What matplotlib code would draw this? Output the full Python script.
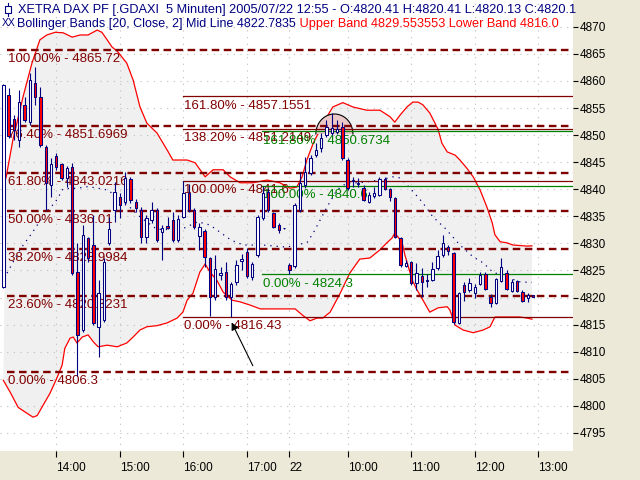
import numpy as np
import matplotlib
matplotlib.use("Agg")
import matplotlib.pyplot as plt
from matplotlib.lines import Line2D
from matplotlib.patches import Rectangle

plt.rcParams['font.family'] = ['Liberation Sans', 'DejaVu Sans']

# ---------------- data ----------------
# 5-minute bars, XETRA DAX, 2005/07/21 13:10 ... 2005/07/22 12:55 (bar index)
opens = [4822.0, 4857.4, 4853.0, 4849.1, 4855.6, 4852.4, 4859.6, 4857.0, 4847.8, 4840.8,
         4846.1, 4844.7, 4842.1, 4844.1, 4824.7, 4814.0, 4831.0, 4829.7, 4814.6, 4815.9,
         4830.1, 4836.2, 4838.6, 4837.6, 4841.9, 4837.6, 4836.2, 4831.2, 4834.3, 4836.2,
         4832.1, 4833.2, 4834.3, 4830.6, 4834.9, 4839.3, 4836.2, 4831.4, 4832.3, 4827.3,
         4820.1, 4824.2, 4824.7, 4820.1, 4822.9, 4826.8, 4828.4, 4823.8, 4827.9, 4834.7,
         4839.5, 4835.6, 4833.4, 4832.8, 4826.0, 4825.8, 4836.2, 4840.8, 4843.0, 4846.3,
         4847.6, 4850.0, 4850.4, 4850.6, 4851.5, 4845.4, 4841.5, 4841.0, 4840.2, 4837.6,
         4838.8, 4838.9, 4841.9, 4840.1, 4838.4, 4831.0, 4825.8, 4826.6, 4822.7, 4824.0,
         4823.2, 4823.2, 4825.5, 4827.9, 4829.3, 4828.2, 4815.3, 4822.3, 4821.4, 4820.8,
         4822.5, 4824.4, 4820.1, 4819.0, 4823.1, 4824.5, 4821.2, 4823.1, 4821.0, 4819.9,
         4820.41]
highs = [4859.5, 4858.7, 4853.7, 4858.3, 4857.0, 4861.5, 4862.6, 4858.9, 4848.2, 4845.8,
         4846.7, 4844.9, 4844.3, 4844.9, 4830.1, 4833.4, 4831.2, 4835.2, 4823.2, 4827.3,
         4834.9, 4841.3, 4839.3, 4843.2, 4842.3, 4838.2, 4836.7, 4835.2, 4837.6, 4836.5,
         4833.4, 4834.9, 4835.8, 4835.2, 4841.6, 4841.0, 4836.5, 4833.8, 4832.7, 4827.5,
         4827.9, 4825.6, 4826.6, 4822.9, 4826.9, 4828.0, 4829.2, 4826.6, 4835.2, 4840.6,
         4840.3, 4835.8, 4833.8, 4832.9, 4826.4, 4837.5, 4843.2, 4846.0, 4846.3, 4848.5,
         4850.4, 4852.8, 4854.1, 4852.8, 4852.4, 4845.8, 4842.3, 4842.1, 4840.8, 4839.5,
         4840.4, 4842.3, 4842.3, 4840.2, 4838.6, 4831.2, 4826.9, 4826.8, 4826.4, 4825.5,
         4824.4, 4826.6, 4828.8, 4831.6, 4829.7, 4828.4, 4821.0, 4822.9, 4823.6, 4822.5,
         4824.7, 4824.7, 4820.7, 4823.6, 4827.3, 4825.1, 4823.4, 4823.2, 4821.4, 4820.8,
         4820.41]
lows = [4821.8, 4849.5, 4849.1, 4847.8, 4852.4, 4851.9, 4855.6, 4847.8, 4836.2, 4838.6,
        4843.6, 4841.7, 4840.4, 4824.2, 4805.5, 4813.6, 4826.6, 4814.9, 4809.0, 4815.5,
        4829.7, 4834.0, 4834.7, 4837.1, 4837.5, 4835.8, 4830.1, 4830.1, 4833.8, 4830.3,
        4826.9, 4832.7, 4830.3, 4830.3, 4834.7, 4835.8, 4832.7, 4828.8, 4825.6, 4816.5,
        4819.5, 4823.2, 4819.5, 4816.43, 4822.3, 4825.1, 4823.6, 4823.2, 4827.5, 4834.3,
        4835.8, 4832.8, 4831.9, 4832.7, 4824.3, 4825.5, 4835.8, 4840.2, 4842.6, 4846.0,
        4846.9, 4849.7, 4850.0, 4850.2, 4845.4, 4839.9, 4840.4, 4840.4, 4837.8, 4837.5,
        4838.4, 4838.8, 4839.9, 4837.8, 4831.0, 4825.6, 4825.6, 4822.3, 4821.4, 4820.1,
        4822.0, 4823.1, 4825.1, 4827.5, 4827.9, 4815.1, 4815.1, 4819.4, 4821.0, 4819.9,
        4822.3, 4821.4, 4818.3, 4818.8, 4822.9, 4821.4, 4821.0, 4821.0, 4819.2, 4819.2,
        4820.13]
closes = [4859.3, 4849.8, 4851.0, 4856.1, 4852.8, 4860.2, 4857.0, 4848.2, 4841.2, 4844.7,
          4844.1, 4842.1, 4843.9, 4824.5, 4813.1, 4831.6, 4827.3, 4815.3, 4820.8, 4826.6,
          4832.7, 4839.5, 4837.1, 4842.1, 4838.0, 4836.5, 4831.2, 4834.7, 4836.2, 4830.6,
          4832.8, 4832.8, 4830.6, 4834.5, 4839.3, 4836.2, 4833.0, 4833.0, 4827.5, 4820.1,
          4825.3, 4824.5, 4820.1, 4822.5, 4826.0, 4827.1, 4824.0, 4826.2, 4834.9, 4839.3,
          4836.2, 4833.0, 4832.5, 4832.8, 4825.1, 4837.1, 4841.2, 4843.2, 4845.8, 4847.3,
          4849.5, 4851.5, 4851.3, 4851.1, 4845.8, 4840.2, 4841.7, 4841.2, 4838.0, 4838.9,
          4839.3, 4841.9, 4840.1, 4838.6, 4831.2, 4826.0, 4826.4, 4822.7, 4824.5, 4822.9,
          4823.1, 4825.3, 4827.7, 4830.1, 4828.6, 4815.5, 4820.8, 4821.0, 4822.7, 4822.0,
          4824.2, 4821.6, 4819.0, 4823.4, 4825.6, 4821.6, 4822.9, 4821.2, 4819.4, 4820.5,
          4820.13]

# Bollinger bands (20, Close, 2) sampled along the bar index
upper_k = [0.5, 1.8, 3.7, 5.4, 6.9, 8.2, 9.8, 11.3, 13.0, 14.5, 16.0, 17.7, 18.6, 19.6, 20.5,
           21.6, 23.3, 24.5, 25.8, 27.1, 29.0, 30.9, 32.0, 34.7, 36.2, 38.1, 39.6, 41.5, 42.8,
           44.7, 47.1, 49.8, 52.2, 54.1, 55.4, 56.4, 57.3, 58.5, 59.8, 61.1, 62.2, 64.1, 66.0,
           68.6, 71.1, 73.0, 73.9, 74.9, 76.2, 77.3, 78.3, 79.2, 80.5, 81.5, 82.1, 82.8, 83.8,
           85.3, 86.2, 87.5, 88.7, 90.0, 91.3, 92.3, 92.8, 93.8, 95.1, 96.2, 98.9, 99.8]
upper = [4842.1, 4849.1, 4857.0, 4863.3, 4867.6, 4868.5, 4869.0, 4868.9, 4868.1, 4868.5,
         4868.5, 4869.4, 4869.0, 4867.6, 4866.3, 4865.4, 4863.3, 4860.2, 4855.2, 4852.2,
         4850.4, 4847.3, 4845.4, 4845.4, 4844.9, 4842.3, 4843.6, 4843.6, 4842.3, 4841.2,
         4841.2, 4841.7, 4841.2, 4840.2, 4840.4, 4842.3, 4845.4, 4848.5, 4851.0, 4853.4,
         4855.2, 4856.0, 4855.2, 4854.6, 4854.6, 4853.4, 4852.4, 4853.7, 4855.2, 4856.1,
         4856.1, 4855.6, 4854.1, 4852.2, 4851.0, 4848.5, 4846.9, 4846.3, 4845.4, 4843.9,
         4842.3, 4839.9, 4836.7, 4833.8, 4831.6, 4830.3, 4830.1, 4829.7, 4829.5, 4829.55]
lower_k = [0.0, 1.3, 2.8, 4.5, 5.6, 6.4, 7.5, 8.8, 10.1, 11.1, 11.6, 12.6, 13.2, 13.9, 14.9,
           16.0, 17.0, 17.9, 19.6, 21.5, 23.3, 24.5, 25.8, 27.1, 29.0, 30.9, 32.8, 33.9, 34.7,
           35.8, 37.1, 38.1, 39.0, 40.3, 41.5, 43.2, 44.7, 46.6, 48.5, 55.1, 56.4, 57.9, 59.2,
           60.3, 61.7, 63.6, 65.4, 67.3, 69.2, 71.1, 72.4, 73.4, 73.9, 74.5, 75.3, 75.8, 77.2,
           78.1, 79.0, 80.5, 82.1, 83.8, 84.3, 85.3, 86.8, 88.7, 90.6, 91.9, 92.8, 95.1, 97.5,
           98.9, 99.8]
lower = [4804.7, 4802.5, 4799.7, 4798.6, 4797.9, 4798.2, 4800.1, 4802.3, 4805.1, 4807.5,
         4810.6, 4812.5, 4812.7, 4811.6, 4812.7, 4813.1, 4811.8, 4810.9, 4811.2, 4810.9,
         4811.6, 4812.7, 4814.0, 4814.6, 4814.8, 4815.3, 4816.2, 4817.3, 4819.5, 4820.8,
         4824.7, 4826.2, 4824.7, 4823.2, 4821.0, 4819.5, 4819.2, 4818.6, 4817.9, 4817.9,
         4816.8, 4815.7, 4816.2, 4816.2, 4817.3, 4820.8, 4824.5, 4827.1, 4827.3, 4828.8,
         4830.1, 4831.0, 4831.9, 4831.2, 4830.1, 4827.9, 4823.2, 4821.4, 4819.9, 4817.3,
         4818.1, 4818.3, 4817.7, 4814.9, 4814.0, 4813.5, 4814.0, 4814.6, 4816.4, 4816.4,
         4816.4, 4816.2, 4816.0]
mid_k = [0.7, 3.1, 5.4, 7.9, 9.8, 11.3, 14.0, 16.0, 19.5, 22.0, 25.8, 29.0, 33.4, 36.7, 39.0,
         43.0, 45.3, 49.0, 53.6, 55.0, 57.3, 58.5, 61.1, 63.0, 64.9, 67.3, 71.1, 73.6, 74.9,
         76.8, 79.2, 81.1, 83.4, 86.2, 88.7, 90.6, 92.4, 97.5, 99.8]
mid = [4824.5, 4828.8, 4831.9, 4835.6, 4837.6, 4840.1, 4840.2, 4840.5, 4839.9, 4838.4,
       4834.9, 4832.6, 4832.5, 4834.0, 4833.4, 4830.6, 4829.7, 4829.7, 4829.3, 4829.7,
       4830.1, 4831.9, 4836.7, 4839.9, 4841.2, 4841.2, 4841.7, 4842.3, 4842.1, 4840.2,
       4837.5, 4834.9, 4832.8, 4829.7, 4827.5, 4826.4, 4824.7, 4822.9, 4822.78]

# Fibonacci retracements / extensions
fibA_pct = ["0.00%", "23.60%", "38.20%", "50.00%", "61.80%", "76.40%", "100.00%"]
fibA_val = [4806.3, 4820.3231, 4828.9984, 4836.01, 4843.0216, 4851.6969, 4865.72]
fibA_start = 0.7
fibB_pct = ["0.00%", "100.00%", "138.20%", "161.80%"]
fibB_val = [4816.43, 4841.6, 4851.2149, 4857.1551]
fibB_start = 33.9
fibC_pct = ["0.00%", "100.00%", "161.80%"]
fibC_val = [4824.3, 4840.6, 4850.6734]
fibC_start = 48.8

# time axis
tick_pos = [10, 22, 34, 46, 54, 65, 77, 89, 101]
tick_lab = ["14:00", "15:00", "16:00", "17:00", "22", "10:00", "11:00", "12:00", "13:00"]
price_ticks = list(range(4795, 4871, 5))

# header lines, as far as they are visible before the price scale
header1 = "XETRA DAX PF [.GDAXI  5 Minuten] 2005/07/22 12:55 - O:4820.41 H:4820.41 L:4820.13 C:4820.1"
header2a = "Bollinger Bands [20, Close, 2] Mid Line 4822.7835"
header2b = " Upper Band 4829.553553 Lower Band 4816.0"

# cup highlight and arrow
cup_center = (62.5, 4850.2)
cup_radius = (3.5, 3.7)
arrow_tip = (43.1, 4815.4)
arrow_tail = (47.1, 4807.4)

# ---------------- style ----------------
NAVY = "#000080"
MAROON = "#800000"
GREEN = "#008000"
RED = "#FF0000"
PANEL = "#ECE9D8"

fig = plt.figure(figsize=(6.4, 4.8), dpi=100, facecolor=PANEL)
ax = fig.add_axes([0, 29 / 480, 573 / 640, 451 / 480])
ax.set_facecolor("white")
for s in ax.spines.values():
    s.set_visible(False)
ax.set_xlim(-0.63, 107.55)
ax.set_ylim(4791.65, 4874.96)

# grid and ticks
ax.set_axisbelow(True)
ax.set_xticks(tick_pos)
ax.set_xticklabels(tick_lab)
ax.set_yticks(price_ticks)
ax.set_yticklabels([str(p) for p in price_ticks])
ax.grid(True, color="#BDBDBD", linestyle=(0, (1, 5)), linewidth=0.8)
ax.yaxis.tick_right()
ax.tick_params(axis="y", right=True, left=False, length=3.5, width=0.8, pad=1.5,
               labelsize=8.5, colors="black", direction="out")
ax.tick_params(axis="x", bottom=True, length=4, width=0.8, pad=4, labelsize=8.5,
               colors="black", direction="out")
for lab in ax.get_xticklabels():
    lab.set_horizontalalignment("left")

# Bollinger band fill + lines
poly_x = np.r_[upper_k, lower_k[::-1]]
poly_y = np.r_[upper, lower[::-1]]
ax.fill(poly_x, poly_y, color="#F0F0F0", zorder=0.3, lw=0)
ax.plot(upper_k, upper, color=RED, lw=0.9, zorder=2)
ax.plot(lower_k, lower, color=RED, lw=0.9, zorder=2)
ax.plot(mid_k, mid, color=NAVY, lw=0.9, linestyle=(0, (1, 4)), zorder=2,
        dash_capstyle="butt")

# Fibonacci
def fib(vals, pcts, x0, color, dashed):
    for v, p in zip(vals, pcts):
        if dashed:
            ax.plot([x0, 115], [v, v], color=color, lw=1.7, dashes=(3.2, 1.9), zorder=3,
                    dash_capstyle="butt")
        else:
            ax.plot([x0, 115], [v, v], color=color, lw=0.9, zorder=3)
        ax.annotate(f"{p} - {v}", xy=(x0 + 0.2, v), xytext=(0, -2.5),
                    textcoords="offset points", va="top", ha="left", color=color,
                    fontsize=9.5, zorder=3, annotation_clip=False)

fib(fibA_val, fibA_pct, fibA_start, MAROON, True)
fib(fibB_val, fibB_pct, fibB_start, MAROON, False)
fib(fibC_val, fibC_pct, fibC_start, GREEN, False)

# cup highlight
th = np.linspace(0, np.pi, 80)
cx = cup_center[0] + cup_radius[0] * np.cos(th)
cy = cup_center[1] + cup_radius[1] * np.sin(th)
ax.fill(cx, cy, color="#EBC9C9", zorder=2.5, lw=0)
ax.plot(cx, cy, color="black", lw=0.8, zorder=2.6)

# candles
o = np.array(opens); h = np.array(highs); l = np.array(lows); c = np.array(closes)
k = np.arange(len(o))
up = c >= o
ax.vlines(k, l, h, color=NAVY, lw=0.8, zorder=4)
body_lo = np.minimum(o, c)
body_h = np.maximum(np.abs(c - o), 0.08)
ax.bar(k, body_h, bottom=body_lo, width=0.45, color=np.where(up, "white", RED),
       edgecolor=NAVY, linewidth=0.75, zorder=5)

# arrow
ax.annotate("", xy=arrow_tip, xytext=arrow_tail,
            arrowprops=dict(arrowstyle="-|>", color="black", lw=0.8, mutation_scale=11,
                            shrinkA=0, shrinkB=0), zorder=6)

# header texts
def fx(px):
    return px / 573.0

def fy(py):
    return 1 - py / 451.0

# small candle icon
ax.add_line(Line2D([fx(8), fx(8)], [fy(3), fy(16)], transform=ax.transAxes, color=NAVY,
                   lw=0.8, zorder=7))
ax.add_patch(Rectangle((fx(5), fy(13)), fx(6), 7 / 451, transform=ax.transAxes,
                       facecolor="white", edgecolor=NAVY, lw=0.8, zorder=7))
ax.text(fx(18), fy(9.5), header1, transform=ax.transAxes, color=NAVY, fontsize=9.2,
        va="center", ha="left", zorder=7)
ax.text(fx(2), fy(23), "XX", transform=ax.transAxes, color=NAVY, fontsize=7.5,
        va="center", ha="left", zorder=7)
t2 = ax.text(fx(17), fy(23.5), header2a, transform=ax.transAxes, color=NAVY, fontsize=9.0,
             va="center", ha="left", zorder=7)
fig.canvas.draw()
bb = t2.get_window_extent(fig.canvas.get_renderer()).transformed(ax.transAxes.inverted())
ax.text(bb.x1, fy(23.5), header2b, transform=ax.transAxes, color=RED, fontsize=9.2,
        va="center", ha="left", zorder=7)

fig.savefig("out.png", dpi=100, facecolor=PANEL)
